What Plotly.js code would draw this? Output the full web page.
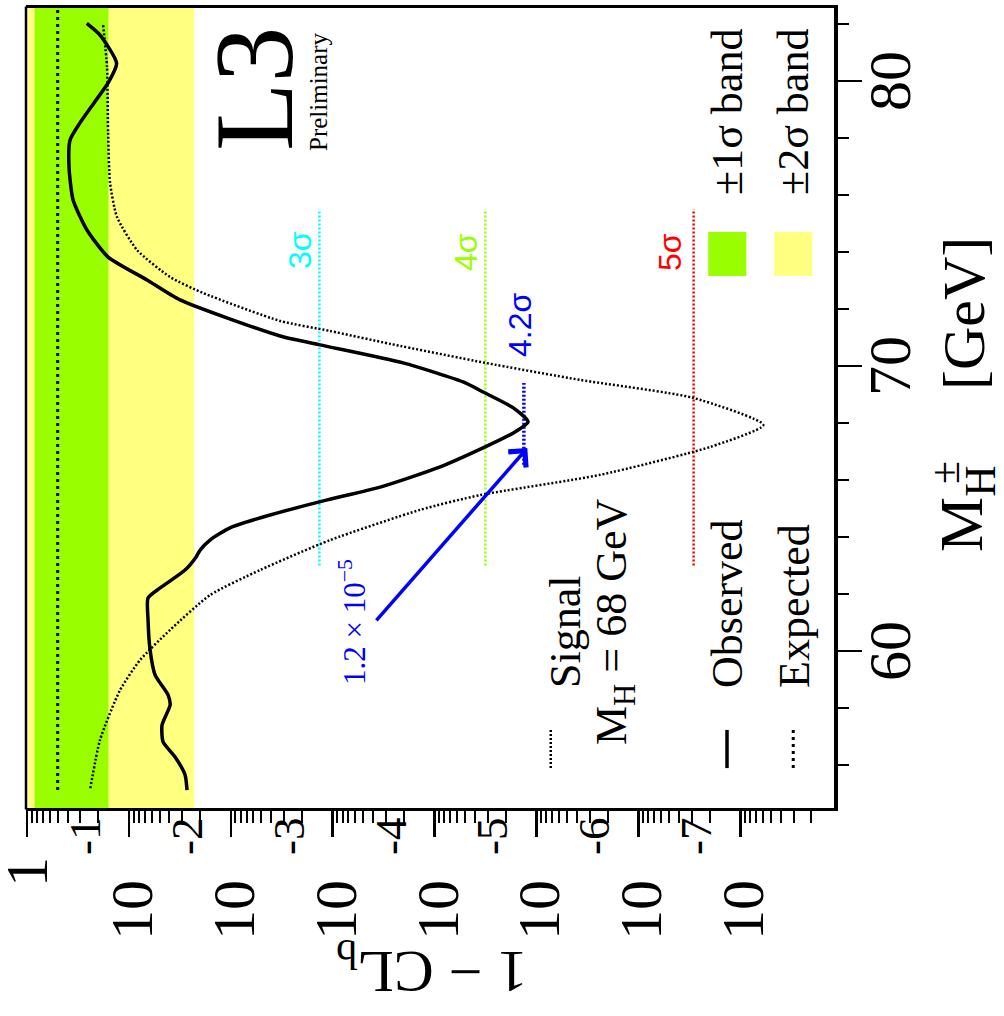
<!DOCTYPE html>
<html><head><meta charset="utf-8">
<script src="https://cdn.plot.ly/plotly-3.0.1.min.js"></script>
<style>
html,body{margin:0;padding:0;width:1004px;height:1016px;overflow:hidden;background:#fff;}
#wrap{position:absolute;left:0;top:0;width:1016px;height:1004px;transform-origin:0 0;transform:translate(0px,1016px) rotate(-90deg);}
#chart{width:1016px;height:1004px;}
</style></head>
<body><div id="wrap"><div id="chart"></div></div>
<script>
// ---- data (mass in GeV, 1-CL_b) ----
const obsMass = [82.02,81.61,80.62,79.93,79.23,78.53,77.93,76.98,75.82,74.77,73.82,73.02,72.32,71.05,70.74,70.11,69.44,69.05,68.53,68.04,67.65,67.16,66.46,65.75,65.30,64.77,64.32,63.89,63.54,63.30,62.84,62.21,61.86,61.09,60.04,59.16,58.46,58.11,57.40,56.81,56.28,55.65,55.12];
const obsCL   = [0.259,0.192,0.132,0.160,0.22,0.302,0.378,0.387,0.353,0.258,0.160,0.0664,0.0315,3.28e-3,1.33e-3,2.04e-4,5.25e-5,3.19e-5,1.69e-5,1.21e-5,1.69e-5,3.19e-5,8.81e-5,3.42e-4,1.13e-3,4.12e-3,0.0102,0.0160,0.020,0.0219,0.0281,0.0494,0.0649,0.0649,0.0620,0.0554,0.0413,0.0394,0.0473,0.0462,0.0352,0.0281,0.0269];
const sigMass = [81.96,80.49,78.18,76.42,75.23,74.07,73.12,72.56,71.58,71.23,70.77,70.11,69.51,68.88,67.93,67.16,66.18,65.47,64.95,63.89,62.84,61.96,60.74,59.68,58.63,56.88,55.12];
const sigCL   = [0.179,0.164,0.160,0.153,0.131,0.0832,0.0394,0.0187,3.28e-3,1.07e-3,2.68e-4,3.19e-5,3.72e-6,2.90e-7,5.94e-8,1.97e-7,2.37e-6,3.57e-5,1.39e-4,1.06e-3,5.16e-3,0.0160,0.0394,0.0778,0.122,0.192,0.241];
const expMass = [55.12, 82.5];
const expCL   = [0.5, 0.5];
const bandMass = [54.3, 82.8];
const band1 = [0.159, 0.841];   // +-1 sigma
const band2 = [0.0228, 0.977];  // +-2 sigma
const sigmaNames  = ['3σ','4σ','4.2σ','5σ'];
const sigmaCL     = [1.35e-3, 3.17e-5, 1.33e-5, 2.87e-7];
const sigmaMassLo = [63.0, 63.0, 66.53, 63.0];
const sigmaMassHi = [75.5, 75.5, 69.40, 75.5];
const minMass = 67.12, minCL = 1.23e-5;
const yTickExp = [0,-1,-2,-3,-4,-5,-6,-7];
const massTicks = [60, 70, 80];

const SERIF = 'Liberation Serif, Times New Roman, serif';
const SANS = 'Liberation Sans, Arial, sans-serif';
const sigmaColors = ['#00ffff','#99ff00','#0000ff','#ff0000'];
const L = Math.log10;
const P = Math.pow;

const traces = [];
traces.push({x:[bandMass[0],bandMass[1],bandMass[1],bandMass[0]], y:[band2[0],band2[0],band2[1],band2[1]], fill:'toself', fillcolor:'#ffff80', line:{width:0}, mode:'lines', hoverinfo:'skip'});
traces.push({x:[bandMass[0],bandMass[1],bandMass[1],bandMass[0]], y:[band1[0],band1[0],band1[1],band1[1]], fill:'toself', fillcolor:'#99ff00', line:{width:0}, mode:'lines', hoverinfo:'skip'});
for (let i=0;i<sigmaNames.length;i++){
  traces.push({x:[sigmaMassLo[i],sigmaMassHi[i]], y:[sigmaCL[i],sigmaCL[i]], mode:'lines', line:{color:sigmaColors[i], width: i===2?3.5:2.5, dash:'2px,2px'}});
}
traces.push({x:expMass, y:expCL, mode:'lines', line:{color:'black', width:3, dash:'3px,4px'}});
traces.push({x:sigMass, y:sigCL, mode:'lines', line:{color:'black', width:2.5, dash:'2px,2px', shape:'spline', smoothing:0.6}});
traces.push({x:obsMass, y:obsCL, mode:'lines', line:{color:'black', width:3.5, shape:'spline', smoothing:0.6}});
// legend samples
traces.push({x:[55.89,57.23], y:[P(10,-5.14),P(10,-5.14)], mode:'lines', line:{color:'black', width:2.5, dash:'2px,2px'}});
traces.push({x:[55.89,57.23], y:[P(10,-6.87),P(10,-6.87)], mode:'lines', line:{color:'black', width:3.5}});
traces.push({x:[55.89,57.23], y:[P(10,-7.52),P(10,-7.52)], mode:'lines', line:{color:'black', width:3, dash:'3px,4px'}});
traces.push({x:[73.16,74.70,74.70,73.16], y:[P(10,-6.686),P(10,-6.686),P(10,-7.059),P(10,-7.059)], fill:'toself', fillcolor:'#99ff00', line:{width:0}, mode:'lines'});
traces.push({x:[73.16,74.70,74.70,73.16], y:[P(10,-7.333),P(10,-7.333),P(10,-7.707),P(10,-7.707)], fill:'toself', fillcolor:'#ffff80', line:{width:0}, mode:'lines'});

const ann = [];
// y tick labels
yTickExp.forEach(k=>{
  if(k===0){
    ann.push({xref:'paper', yref:'y', x:0, y:0, xanchor:'right', yanchor:'middle', xshift:-47, text:'1', showarrow:false, font:{family:SERIF,size:60,color:'black'}});
  } else {
    ann.push({xref:'paper', yref:'y', x:0, y:k, xanchor:'right', yanchor:'middle', xshift:-70, yshift:-3, text:'10', showarrow:false, font:{family:SERIF,size:60,color:'black'}});
    ann.push({xref:'paper', yref:'y', x:0, y:k, xanchor:'right', yanchor:'middle', xshift:-7, yshift:44, text:'-'+(-k), showarrow:false, font:{family:SERIF,size:45,color:'black'}});
  }
});
// x tick labels
massTicks.forEach(m=>{
  ann.push({xref:'x', yref:'paper', x:m, y:-0.0693, xanchor:'center', yanchor:'middle', text:String(m), showarrow:false, font:{family:SERIF,size:60,color:'black'}});
});
// axis titles
ann.push({xref:'paper', yref:'paper', x:-0.2006, y:0.4975, text:'1 − CL<sub>b</sub>', textangle:-90, showarrow:false, xanchor:'center', yanchor:'middle', font:{family:SERIF,size:60,color:'black'}});
ann.push({xref:'x', yref:'paper', x:63.40, y:-0.163, text:'M<sub>H</sub>', xanchor:'left', yanchor:'middle', showarrow:false, font:{family:SERIF,size:62,color:'black'}});
ann.push({xref:'x', yref:'paper', x:66.25, y:-0.137, text:'±', xanchor:'center', yanchor:'middle', showarrow:false, font:{family:SERIF,size:42,color:'black'}});
ann.push({xref:'x', yref:'paper', x:69.09, y:-0.161, text:'[GeV]', xanchor:'left', yanchor:'middle', showarrow:false, font:{family:SERIF,size:60,color:'black'}});
// logo
ann.push({xref:'x', yref:'y', x:81.96, y:-2.23, text:'L3', xanchor:'right', yanchor:'middle', showarrow:false, font:{family:SERIF,size:112,color:'black'}});
ann.push({xref:'x', yref:'y', x:81.79, y:-2.86, text:'Preliminary', xanchor:'right', yanchor:'middle', showarrow:false, font:{family:SERIF,size:25,color:'black'}});
// sigma labels
ann.push({xref:'x', yref:'y', x:74.07, y:-2.68, text:'3σ', showarrow:false, font:{family:SANS,size:32,color:sigmaColors[0]}});
ann.push({xref:'x', yref:'y', x:74.0, y:-4.31, text:'4σ', showarrow:false, font:{family:SANS,size:32,color:sigmaColors[1]}});
ann.push({xref:'x', yref:'y', x:71.44, y:-4.84, text:'4.2σ', showarrow:false, font:{family:SANS,size:32,color:sigmaColors[2]}});
ann.push({xref:'x', yref:'y', x:74.0, y:-6.31, text:'5σ', showarrow:false, font:{family:SANS,size:32,color:sigmaColors[3]}});
// arrow and value
ann.push({xref:'x', yref:'y', x:minMass, y:L(minCL), axref:'x', ayref:'y', ax:61.02, ay:-3.416, text:'', showarrow:true, arrowhead:4, arrowsize:1.3, arrowwidth:3.5, arrowcolor:'#0000ff', standoff:0});
ann.push({xref:'x', yref:'y', x:61.0, y:-3.19, text:'1.2 × 10<sup>−5</sup>', showarrow:false, font:{family:SERIF,size:31,color:'#0000ff'}});
// legend text
ann.push({xref:'x', yref:'y', x:58.63, y:-5.28, text:'Signal', showarrow:false, xanchor:'left', font:{family:SERIF,size:44,color:'black'}});
ann.push({xref:'x', yref:'y', x:56.63, y:-5.77, text:'M<sub>H</sub> = 68 GeV', showarrow:false, xanchor:'left', font:{family:SERIF,size:44,color:'black'}});
ann.push({xref:'x', yref:'y', x:58.63, y:-6.872, text:'Observed', showarrow:false, xanchor:'left', font:{family:SERIF,size:44,color:'black'}});
ann.push({xref:'x', yref:'y', x:58.63, y:-7.53, text:'Expected', showarrow:false, xanchor:'left', font:{family:SERIF,size:44,color:'black'}});
ann.push({xref:'x', yref:'y', x:75.93, y:-6.87, text:'±1σ band', showarrow:false, xanchor:'left', font:{family:SERIF,size:44,color:'black'}});
ann.push({xref:'x', yref:'y', x:75.93, y:-7.52, text:'±2σ band', showarrow:false, xanchor:'left', font:{family:SERIF,size:44,color:'black'}});

const layout = {
  width:1016, height:1004,
  margin:{l:208, r:8, t:26, b:170},
  paper_bgcolor:'white', plot_bgcolor:'white',
  showlegend:false,
  xaxis:{range:[54.49,82.56], showline:true, linewidth:4, linecolor:'black', mirror:false,
    ticks:'outside', ticklen:24, tickwidth:2.5, tickcolor:'black', dtick:10, tick0:0, showticklabels:false,
    showgrid:false, zeroline:false,
    minor:{dtick:2, ticklen:11, tickwidth:2.5, tickcolor:'black', ticks:'outside', showgrid:false}},
  yaxis:{type:'log', range:[-7.92,0.01], showline:true, linewidth:3, linecolor:'black', mirror:true,
    ticks:'outside', ticklen:26, tickwidth:2.5, tickcolor:'black', dtick:1, showticklabels:false,
    showgrid:false, zeroline:false,
    minor:{dtick:'D1', ticklen:12, tickwidth:2, tickcolor:'black', ticks:'outside', showgrid:false}},
  shapes:[{type:'line', xref:'paper', yref:'paper', x0:-0.002, x1:1.002, y0:1, y1:1, line:{color:'black', width:2.5}}],
  annotations: ann
};
Plotly.newPlot('chart', traces, layout, {staticPlot:true});
</script>
</body></html>
